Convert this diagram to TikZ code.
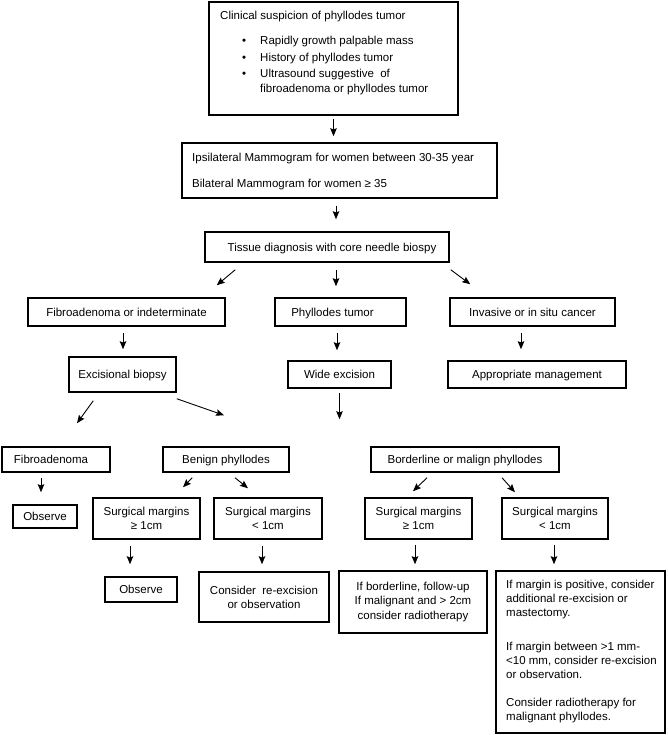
\documentclass[tikz,border=0pt]{standalone}
\usepackage{fontspec}
\setmainfont{Liberation Sans}
\usetikzlibrary{arrows.meta,calc}
\newcommand\figfont{\fontsize{11.5}{14}\selectfont}
\begin{document}
\begin{tikzpicture}[x=1pt,y=-1pt,
  bx/.style={draw, line width=1.5pt, inner sep=0pt, align=center, font=\figfont},
  one/.style={text height=8.3pt, text depth=0pt},
  ar/.style={line width=0.9pt, -{Stealth[length=8pt,width=6.5pt,inset=1.2pt]}},
  tx/.style={inner sep=0pt, anchor=base west, font=\figfont}]
\useasboundingbox (0,0) rectangle (668,735);

% ---- boxes ----
\node[bx, minimum width=249, minimum height=113] (b1) at (333.5,58.5) {};
\node[bx, minimum width=315, minimum height=55] (b2) at (339.5,170.5) {};
\node[bx, one, minimum width=244, minimum height=30] (b3) at (327,247) {\hspace*{10pt}Tissue diagnosis with core needle biospy};
\node[bx, one, minimum width=197, minimum height=28] (f1) at (126.5,312) {Fibroadenoma or indeterminate};
\node[bx, one, minimum width=131, minimum height=28] (p1) at (340.5,312) {Phyllodes tumor\hspace*{16pt}};
\node[bx, one, minimum width=165, minimum height=28] (i1) at (532.5,312) {Invasive or in situ cancer};
\node[bx, one, minimum width=107, minimum height=35] (e1) at (122.5,374.5) {Excisional biopsy};
\node[bx, one, minimum width=103, minimum height=27] (w1) at (339.5,374.5) {Wide excision};
\node[bx, one, minimum width=178, minimum height=27] (a1) at (537,374.5) {Appropriate management};
\node[bx, one, minimum width=108, minimum height=25] (fa) at (56,459.5) {Fibroadenoma\hspace*{10pt}};
\node[bx, one, minimum width=126, minimum height=25] (bp) at (226,459.5) {Benign phyllodes};
\node[bx, one, minimum width=188, minimum height=25] (bm) at (465,459.5) {Borderline or malign phyllodes};
\node[bx, one, minimum width=64, minimum height=23] (ob1) at (45,516.5) {Observe};
\node[bx, minimum width=107, minimum height=41] (s1) at (146.5,518.5) {Surgical margins\\≥ 1cm};
\node[bx, minimum width=108, minimum height=41] (s2) at (268,518.5) {Surgical margins\\< 1cm};
\node[bx, minimum width=107, minimum height=41] (s3) at (418.5,518.5) {Surgical margins\\≥ 1cm};
\node[bx, minimum width=106, minimum height=41] (s4) at (555,518.5) {Surgical margins\\< 1cm};
\node[bx, one, minimum width=72, minimum height=25] (ob2) at (141,589.5) {Observe};
\node[bx, minimum width=130, minimum height=50] (c1) at (264,597) {Consider\ \ re-excision\\or observation};
\node[bx, minimum width=148, minimum height=62, font=\fontsize{11.5}{14.5}\selectfont] (r1) at (413,602) {If borderline, follow-up\\If malignant and > 2cm\\consider radiotherapy};
\node[bx, minimum width=169, minimum height=162] (m1) at (580.5,652) {};

% ---- texts inside the top boxes ----
\node[tx] (t1) at (220,20) {Clinical suspicion of phyllodes tumor};
\node[tx] (t2) at (242,45) {\makebox[18pt][l]{\textbullet}Rapidly growth palpable mass};
\node[tx] (t3) at (242,61.5) {\makebox[18pt][l]{\textbullet}History of phyllodes tumor};
\node[tx] (t4) at (242,78) {\makebox[18pt][l]{\textbullet}Ultrasound suggestive\ \ of};
\node[tx] (t5) at (260,92.5) {fibroadenoma or phyllodes tumor};
\node[tx] (u1) at (192,162) {Ipsilateral Mammogram for women between 30-35 year};
\node[tx] (u2) at (192,187.5) {Bilateral Mammogram for women ≥ 35};

% ---- text inside the large box ----
\node[tx] (m1a) at (506,588) {If margin is positive, consider};
\node[tx] (m1b) at (506,602.5) {additional re-excision or};
\node[tx] (m1c) at (506,616.5) {mastectomy.};
\node[tx] (m1d) at (506,650.5) {If margin between >1 mm-};
\node[tx] (m1e) at (506,664.5) {<10 mm, consider re-excision};
\node[tx] (m1f) at (506,678.5) {or observation.};
\node[tx] (m1g) at (506,706.5) {Consider radiotherapy for};
\node[tx] (m1h) at (506,720.5) {malignant phyllodes.};

% ---- connectors ----
\draw[ar, shorten <=3, shorten >=6] (b1.south) -- (b1.south |- b2.north);
\draw[ar, shorten <=7, shorten >=12] ([xshift=-3.5]b2.south) -- ([xshift=-3.5]b2.south |- b3.north);
\draw[ar] ($(b3.south west)+(31,7)$) -- ($(f1.north east)+(-9,-12)$);
\draw[ar, shorten <=7, shorten >=11] ([xshift=9]b3.south) -- ([xshift=9]b3.south |- p1.north);
\draw[ar] ($(b3.south east)+(1,7)$) -- ($(i1.north west)+(21,-13)$);
\draw[ar, shorten <=6, shorten >=7] ([xshift=-3.5]f1.south) -- ([xshift=-3.5]f1.south |- e1.north);
\draw[ar, shorten <=6, shorten >=10] ([xshift=-3.5]p1.south) -- ([xshift=-3.5]p1.south |- w1.north);
\draw[ar, shorten <=6, shorten >=11] ([xshift=-11.5]i1.south) -- ([xshift=-11.5]i1.south |- a1.north);
\draw[ar] ($(e1.south west)+(25,8)$) -- ($(fa.north)+(21,-23)$);
\draw[ar] ($(e1.south east)+(0,6)$) -- ($(bp.north)+(-2,-31)$);
\draw[ar, shorten <=4, shorten >=27] (w1.south) -- (w1.south |- bm.north);
\draw[ar, shorten <=5, shorten >=12] ([xshift=-15]fa.south) -- ([xshift=-15]fa.south |- ob1.north);
\draw[ar] ($(bp.south west)+(30,5)$) -- ($(s1.north)+(36.5,-10)$);
\draw[ar] ($(bp.south)+(9,5)$) -- ($(s2.north)+(-20,-9)$);
\draw[ar] ($(bm.south)+(-38,5)$) -- ($(s3.north)+(-5.5,-6)$);
\draw[ar] ($(bm.south)+(37,5)$) -- ($(s4.north)+(-40,-5)$);
\draw[ar, shorten <=6, shorten >=12] ([xshift=-16.5]s1.south) -- ([xshift=-16.5]s1.south |- ob2.north);
\draw[ar, shorten <=6, shorten >=7] ([xshift=-6]s2.south) -- ([xshift=-6]s2.south |- c1.north);
\draw[ar, shorten <=5, shorten >=6] ([xshift=-3.5]s3.south) -- ([xshift=-3.5]s3.south |- r1.north);
\draw[ar, shorten <=5, shorten >=6] ([xshift=-1]s4.south) -- ([xshift=-1]s4.south |- m1.north);
\end{tikzpicture}
\end{document}
